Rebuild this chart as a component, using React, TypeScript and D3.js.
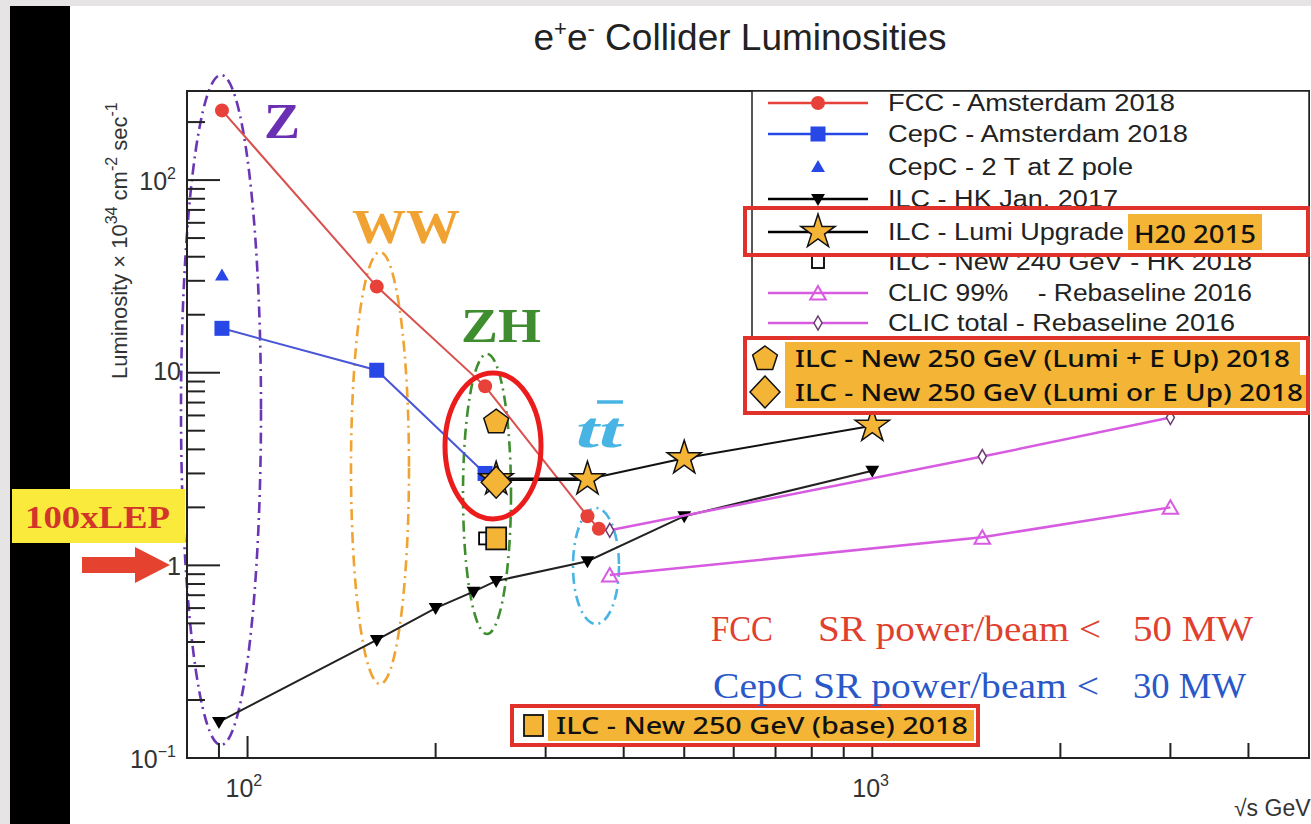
import React from "react";
import * as d3 from "d3";

// data (sqrt(s) in GeV, luminosity in 1e34 cm^-2 s^-1)
const fccEnergy = [91, 161, 240, 350, 365];
const fccLumi = [230, 28, 8.5, 1.8, 1.55];
const cepcEnergy = [91, 161, 240];
const cepcLumi = [17, 10.3, 3.0];
const cepc2TEnergy = [91];
const cepc2TLumi = [32];
const ilcEnergy = [90, 161, 200, 230, 250, 350, 500, 1000];
const ilcLumi = [0.154, 0.41, 0.6, 0.73, 0.83, 1.05, 1.8, 3.1];
const ilcUpEnergy = [250, 350, 500, 1000];
const ilcUpLumi = [2.8, 2.8, 3.6, 5.3];
const ilc240Energy = [240];
const ilc240Lumi = [1.38];
const clic99Energy = [380, 1500, 3000];
const clic99Lumi = [0.89, 1.4, 2.0];
const clicTotEnergy = [380, 1500, 3000];
const clicTotLumi = [1.52, 3.67, 5.85];
const ilc250PentEnergy = [250];
const ilc250PentLumi = [5.6];
const ilc250DiamEnergy = [250];
const ilc250DiamLumi = [2.7];
const ilc250BaseEnergy = [250];
const ilc250BaseLumi = [1.38];

const legendLabels = [
  "FCC - Amsterdam 2018",
  "CepC - Amsterdam 2018",
  "CepC - 2 T at Z pole",
  "ILC - HK Jan. 2017",
  "ILC - Lumi Upgrade",
  "ILC - New 240 GeV - HK 2018",
  "CLIC 99%    - Rebaseline 2016",
  "CLIC total - Rebaseline 2016",
];
const legendWidths = [287, 300, 245, 230, 236, 364, 364, 347];
const highlightLabels = [
  "ILC - New 250 GeV (Lumi + E Up) 2018",
  "ILC - New 250 GeV (Lumi or E Up) 2018",
];
const baseLabel = "ILC - New 250 GeV (base) 2018";

const ORANGE = "#f4b536";
const RED = "#e8413a";
const BLUE = "#2747e6";
const MAGENTA = "#d75be0";
const ROOTFONT = "'Liberation Sans', Arial, sans-serif";
const SERIF = "'Liberation Serif', 'Times New Roman', serif";
const HFONT = "'Noto Sans', 'Liberation Sans', sans-serif";

const x = d3.scaleLog().domain([80, 5000]).range([187, 1309]);
const y = d3.scaleLog().domain([0.1, 290]).range([758, 91]);

const zip = (a: number[], b: number[]) => a.map((v, i) => [v, b[i]] as [number, number]);

const lineGen = d3
  .line<[number, number]>()
  .x((d) => x(d[0]))
  .y((d) => y(d[1]));

function polygon(cx: number, cy: number, n: number, r: number, rot = -90) {
  const pts = d3.range(n).map((k) => {
    const a = ((rot + (k * 360) / n) * Math.PI) / 180;
    return [cx + r * Math.cos(a), cy + r * Math.sin(a)];
  });
  return "M" + pts.map((p) => p.join(",")).join("L") + "Z";
}

function star(cx: number, cy: number, R: number) {
  const p = d3.symbol().type(d3.symbolStar).size((R * R) / 0.8908130915)();
  return <path d={p!} transform={`translate(${cx},${cy})`} fill={ORANGE} stroke="#111" strokeWidth={1.5} />;
}

function Marker({ kind, cx, cy }: { kind: string; cx: number; cy: number }) {
  switch (kind) {
    case "circle":
      return <circle cx={cx} cy={cy} r={7} fill={RED} />;
    case "square":
      return <rect x={cx - 7.5} y={cy - 7.5} width={15} height={15} fill={BLUE} />;
    case "triUp":
      return <path d={polygon(cx, cy + 1, 3, 8)} fill={BLUE} />;
    case "triDown":
      return <path d={polygon(cx, cy - 1, 3, 8, 90)} fill="#000" />;
    case "star":
      return star(cx, cy, 18);
    case "openSquare":
      return <rect x={cx - 6} y={cy - 6} width={12} height={12} fill="#fff" stroke="#000" strokeWidth={1.8} />;
    case "openTri":
      return <path d={polygon(cx, cy + 2, 3, 9)} fill="none" stroke={MAGENTA} strokeWidth={2} />;
    case "thinDiamond":
      return (
        <path
          d={`M${cx},${cy - 7}L${cx + 4},${cy}L${cx},${cy + 7}L${cx - 4},${cy}Z`}
          fill="#fff"
          stroke="#6a3a70"
          strokeWidth={1.5}
        />
      );
    case "pentagon":
      return <path d={polygon(cx, cy + 1, 5, 13)} fill={ORANGE} stroke="#111" strokeWidth={1.5} />;
    case "diamond":
      return (
        <path
          d={`M${cx},${cy - 16}L${cx + 15},${cy}L${cx},${cy + 16}L${cx - 15},${cy}Z`}
          fill={ORANGE}
          stroke="#111"
          strokeWidth={1.5}
        />
      );
    case "orangeSquare":
      return <rect x={cx - 10} y={cy - 11} width={20} height={22} fill={ORANGE} stroke="#111" strokeWidth={1.8} />;
    default:
      return null;
  }
}

function Series({ ex, lu, kind, stroke, width = 2 }: { ex: number[]; lu: number[]; kind: string; stroke?: string; width?: number }) {
  const pts = zip(ex, lu);
  return (
    <g>
      {stroke && pts.length > 1 && <path d={lineGen(pts)!} fill="none" stroke={stroke} strokeWidth={width} />}
      {pts.map((p, i) => (
        <Marker key={i} kind={kind} cx={x(p[0])} cy={y(p[1])} />
      ))}
    </g>
  );
}

function Axes() {
  const yt = y.ticks();
  const xt = x.ticks().filter((t) => t > 80 && t < 5000);
  const isMajor = (t: number) => Math.abs(Math.log10(t) - Math.round(Math.log10(t))) < 1e-6;
  return (
    <g stroke="#222">
      <rect x={187} y={91} width={1122} height={667} fill="none" strokeWidth={2} />
      {yt.map((t, i) => (
        <line key={"y" + i} x1={188} x2={188 + (isMajor(t) ? 32 : 17)} y1={y(t)} y2={y(t)} strokeWidth={2} />
      ))}
      {xt.map((t, i) => (
        <line key={"x" + i} x1={x(t)} x2={x(t)} y1={757} y2={757 - (isMajor(t) ? 21 : 14)} strokeWidth={2} />
      ))}
    </g>
  );
}

function TickLabels() {
  const f = ROOTFONT;
  return (
    <g fontFamily={f} fill="#333">
      <text x={176} y={190} textAnchor="end" fontSize={25}>
        10<tspan dy={-11} fontSize={16}>2</tspan>
      </text>
      <text x={181} y={380} textAnchor="end" fontSize={25}>10</text>
      <text x={181} y={575} textAnchor="end" fontSize={25}>1</text>
      <text x={176} y={768} textAnchor="end" fontSize={25}>
        10<tspan dy={-11} fontSize={16}>−1</tspan>
      </text>
      <text x={x(100) - 22} y={797} fontSize={25}>
        10<tspan dy={-11} fontSize={16}>2</tspan>
      </text>
      <text x={x(1000) - 20} y={797} fontSize={25}>
        10<tspan dy={-11} fontSize={16}>3</tspan>
      </text>
      <text x={1234} y={816} fontSize={23}>√s GeV</text>
      <text transform="translate(127,379) rotate(-90)" fontSize={22}>
        Luminosity × 10<tspan dy={-10} fontSize={16}>34</tspan>
        <tspan dy={10}> cm</tspan>
        <tspan dy={-10} fontSize={16}>-2</tspan>
        <tspan dy={10}> sec</tspan>
        <tspan dy={-10} fontSize={16}>-1</tspan>
      </text>
    </g>
  );
}

function Ellipses() {
  const dash = "11 5 2 5";
  return (
    <g fill="none" strokeWidth={2.6} strokeDasharray={dash}>
      <ellipse cx={221} cy={410} rx={40} ry={335} stroke="#6b36b4" />
      <ellipse cx={380} cy={468} rx={29} ry={216} stroke="#f0a332" />
      <ellipse cx={487} cy={494} rx={24} ry={140} stroke="#3f8d2e" />
      <ellipse cx={596} cy={566} rx={23} ry={58} stroke="#48b4e4" />
    </g>
  );
}

function ProcessLabels() {
  return (
    <g fontFamily={SERIF} fontWeight="bold">
      <text x={264} y={138} fontSize={50} fill="#6b2fb4" textLength={36} lengthAdjust="spacingAndGlyphs">Z</text>
      <text x={352} y={243} fontSize={48} fill="#f0a332" textLength={108} lengthAdjust="spacingAndGlyphs">WW</text>
      <text x={461} y={342} fontSize={48} fill="#3f8d2e" textLength={80} lengthAdjust="spacingAndGlyphs">ZH</text>
      <text x={576} y={447} fontSize={50} fill="#48b4e4" fontStyle="italic" textLength={46} lengthAdjust="spacingAndGlyphs">tt</text>
      <line x1={597} x2={623} y1={402} y2={402} stroke="#48b4e4" strokeWidth={3.5} />
    </g>
  );
}

function Legend() {
  const rows = [103, 134, 167, 199, 232, 262, 293, 323];
  const kinds = ["circle", "square", "triUp", "triDown", "star", "openSquare", "openTri", "thinDiamond"];
  const strokes = [RED, BLUE, null, "#000", "#000", null, MAGENTA, MAGENTA];
  return (
    <g>
      <rect x={752} y={91} width={557} height={250} fill="#fff" stroke="#222" strokeWidth={1.5} />
      {rows.map((ry, i) => (
        <g key={i}>
          {strokes[i] && <line x1={768} x2={868} y1={ry} y2={ry} stroke={strokes[i]!} strokeWidth={2.5} />}
          <Marker kind={kinds[i]} cx={818} cy={ry} />
          <text
            x={888}
            y={ry + 8}
            fontFamily={ROOTFONT}
            fontSize={23}
            fill="#222"
            textLength={legendWidths[i]}
            lengthAdjust="spacingAndGlyphs"
            style={{ whiteSpace: "pre" }}
          >
            {legendLabels[i]}
          </text>
        </g>
      ))}
      {/* H20 highlight */}
      <rect x={1128} y={214} width={134} height={36} fill={ORANGE} />
      <text x={1134} y={243} fontFamily={HFONT} fontSize={26} fontWeight={500} fill="#111" textLength={122} lengthAdjust="spacingAndGlyphs">
        H20 2015
      </text>
      <rect x={745} y={208} width={563} height={47} fill="none" stroke="#e0322b" strokeWidth={4} />
      {/* new 250 GeV highlights */}
      <rect x={747} y={340} width={559} height={71} fill="#fff" />
      <rect x={785} y={342} width={515} height={33} fill={ORANGE} />
      <rect x={785} y={375} width={521} height={33} fill={ORANGE} />
      <Marker kind="pentagon" cx={765} cy={358} />
      <Marker kind="diamond" cx={765} cy={392} />
      {highlightLabels.map((t, i) => (
        <text
          key={t}
          x={795}
          y={367 + i * 34}
          fontFamily={HFONT}
          fontSize={24}
          fontWeight={500}
          fill="#111"
          textLength={i === 0 ? 495 : 508}
          lengthAdjust="spacingAndGlyphs"
        >
          {t}
        </text>
      ))}
      <rect x={745} y={338} width={563} height={75} fill="none" stroke="#e0322b" strokeWidth={4} />
    </g>
  );
}

function BaseBox() {
  return (
    <g>
      <rect x={514} y={708} width={462} height={35} fill="#fff" />
      <rect x={548} y={710} width={426} height={31} fill={ORANGE} />
      <rect x={524} y={715} width={19} height={21} fill={ORANGE} stroke="#111" strokeWidth={1.8} />
      <text x={556} y={734} fontFamily={HFONT} fontSize={23} fontWeight={500} fill="#111" textLength={412} lengthAdjust="spacingAndGlyphs">
        {baseLabel}
      </text>
      <rect x={512} y={706} width={466} height={39} fill="none" stroke="#e0322b" strokeWidth={4} />
    </g>
  );
}

function PowerNotes() {
  return (
    <g fontFamily={SERIF} fontSize={35}>
      <g fill="#e0412f">
        <text x={711} y={641} textLength={62} lengthAdjust="spacingAndGlyphs">FCC</text>
        <text x={818} y={641} textLength={283} lengthAdjust="spacingAndGlyphs">SR power/beam &lt;</text>
        <text x={1133} y={641} textLength={120} lengthAdjust="spacingAndGlyphs">50 MW</text>
      </g>
      <g fill="#2b58c8">
        <text x={713} y={698} textLength={386} lengthAdjust="spacingAndGlyphs">CepC SR power/beam &lt;</text>
        <text x={1133} y={698} textLength={113} lengthAdjust="spacingAndGlyphs">30 MW</text>
      </g>
    </g>
  );
}

export default function App() {
  const upPts = zip(ilcUpEnergy, ilcUpLumi);
  return (
    <svg width={1311} height={824} style={{ position: "absolute", left: 0, top: 0, display: "block" }}>
      <rect x={0} y={0} width={1311} height={824} fill="#e6e4e4" />
      <rect x={10} y={6} width={1301} height={818} fill="#fff" />
      <rect x={10} y={6} width={60} height={818} fill="#000" />

      <text x={740} y={50} textAnchor="middle" fontFamily={ROOTFONT} fontSize={37} fill="#222">
        e<tspan dy={-14} fontSize={22}>+</tspan>
        <tspan dy={14}>e</tspan>
        <tspan dy={-14} fontSize={22}>-</tspan>
        <tspan dy={14}> Collider Luminosities</tspan>
      </text>

      <Ellipses />
      <Axes />
      <TickLabels />

      <Series ex={fccEnergy} lu={fccLumi} kind="circle" stroke="#d9504e" width={2} />
      <Series ex={cepcEnergy} lu={cepcLumi} kind="square" stroke="#4a56d8" width={2} />
      <Series ex={cepc2TEnergy} lu={cepc2TLumi} kind="triUp" />
      <Series ex={ilcEnergy} lu={ilcLumi} kind="triDown" stroke="#222" width={2} />
      <Series ex={clic99Energy} lu={clic99Lumi} kind="openTri" stroke={MAGENTA} width={2.5} />
      <Series ex={clicTotEnergy} lu={clicTotLumi} kind="thinDiamond" stroke={MAGENTA} width={2.5} />
      <path d={lineGen(upPts.slice(0, 2))!} stroke="#000" strokeWidth={3.5} fill="none" />
      <Series ex={ilcUpEnergy} lu={ilcUpLumi} kind="star" stroke="#111" width={2} />
      <Series ex={ilc240Energy} lu={ilc240Lumi} kind="openSquare" />
      <Series ex={ilc250BaseEnergy} lu={ilc250BaseLumi} kind="orangeSquare" />
      <Series ex={ilc250PentEnergy} lu={ilc250PentLumi} kind="pentagon" />
      <Series ex={ilc250DiamEnergy} lu={ilc250DiamLumi} kind="diamond" />

      <ellipse cx={493} cy={446} rx={48} ry={73} fill="none" stroke="#ec1c1c" strokeWidth={5} />
      <ProcessLabels />
      <Legend />
      <BaseBox />
      <PowerNotes />

      {/* 100xLEP callout */}
      <rect x={12} y={489} width={173} height={54} fill="#faea3c" />
      <text x={25} y={528} fontFamily={SERIF} fontWeight="bold" fontSize={31} fill="#d3352a" textLength={145} lengthAdjust="spacingAndGlyphs">
        100xLEP
      </text>
      <path d="M82,557L135,557L135,547L170,565L135,583L135,573L82,573Z" fill="#e5432f" />
    </svg>
  );
}
